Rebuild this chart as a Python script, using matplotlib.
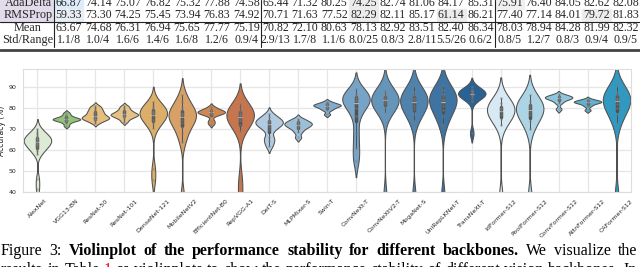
import matplotlib
matplotlib.use("Agg")
import matplotlib.pyplot as plt
import seaborn as sns
import pandas as pd

W, H = 640, 267

# ---- table rows (cut-off top of the page) ----
row_labels = ["AdaDelta", "RMSProp", "Mean", "Std/Range"]
adadelta = ["66.87", "74.14", "75.07", "76.82", "75.32", "77.88", "74.58",
            "65.44", "71.32", "80.25", "74.25", "82.74", "81.06", "84.17", "85.31",
            "75.91", "76.40", "84.05", "82.62", "82.08"]
rmsprop = ["59.33", "73.30", "74.25", "75.45", "73.94", "76.83", "74.92",
           "70.71", "71.63", "77.52", "82.29", "82.11", "85.17", "61.14", "86.21",
           "77.40", "77.14", "84.01", "79.72", "81.83"]
means = ["63.67", "74.68", "76.31", "76.94", "75.65", "77.77", "75.19",
         "70.82", "72.10", "80.63", "78.13", "82.92", "83.51", "82.40", "86.34",
         "78.03", "78.94", "84.28", "81.99", "82.32"]
stds = ["1.1/8", "1.0/4", "1.6/6", "1.4/6", "1.6/8", "1.2/6", "0.9/4",
        "2.9/13", "1.7/8", "1.1/6", "8.0/25", "0.8/3", "2.8/11", "5.5/26", "0.6/2",
        "0.8/5", "1.2/7", "0.8/3", "0.9/4", "0.9/5"]
group_sizes = [7, 8, 5]

# ---- violin data (accuracy per optimizer) ----
models = ["AlexNet", "VGG13-BN", "ResNet-50", "ResNet-101", "DenseNet-121",
          "MobileNetV2", "EfficientNet-B0", "RepVGG-A1", "DeiT-S", "MLPMixer-S",
          "Swin-T", "ConvNeXt-T", "ConvNeXtV2-T", "MogaNet-S", "UniRepLKNet-T",
          "TransNeXt-T", "IdFormer-S12", "PoolFormer-S12", "ConvFormer-S12",
          "AttnFormer-S12", "CAFormer-S12"]
acc = {
    "AlexNet": [41.5, 46.0, 58.0, 59.5, 60.5, 61.5, 62.2, 62.8, 63.4, 63.9, 64.3, 64.8, 65.2,
                65.7, 66.2, 66.8, 67.5, 68.5, 70.0],
    "VGG13-BN": [71.5, 72.8, 73.6, 74.0, 74.3, 74.5, 74.7, 74.9, 75.2, 75.5, 76.0, 76.8, 77.8],
    "ResNet-50": [73.0, 74.0, 74.6, 75.0, 75.3, 75.7, 76.2, 76.8, 77.5, 78.3, 79.0, 80.0, 81.0],
    "ResNet-101": [73.5, 74.8, 75.5, 76.0, 76.4, 76.8, 77.0, 77.3, 77.8, 78.4, 79.0, 80.0, 81.0],
    "DenseNet-121": [45.5, 51.0, 70.5, 72.5, 74.0, 75.0, 76.0, 76.6, 77.2, 77.7, 78.2, 78.8,
                     79.5, 80.3, 81.5, 83.0],
    "MobileNetV2": [37.5, 64.0, 68.0, 71.0, 73.0, 74.5, 75.5, 76.3, 77.0, 77.8, 79.0, 80.5, 83.0, 86.0],
    "EfficientNet-B0": [72.5, 74.0, 76.5, 77.2, 77.6, 77.9, 78.2, 78.5, 78.9, 79.5, 80.5],
    "RepVGG-A1": [37.5, 45.5, 69.0, 72.0, 74.0, 75.0, 75.8, 76.5, 77.2, 78.0, 79.0, 80.5, 82.0],
    "DeiT-S": [62.0, 64.5, 66.0, 69.5, 71.0, 72.0, 72.6, 73.2, 73.8, 74.5, 75.5, 77.0],
    "MLPMixer-S": [66.0, 68.5, 70.0, 70.8, 71.5, 72.0, 72.4, 72.9, 73.4, 74.0, 75.0],
    "Swin-T": [77.0, 79.0, 79.8, 80.5, 80.9, 81.2, 81.5, 81.8, 82.2, 83.0],
    "ConvNeXt-T": [55.0, 61.0, 68.0, 76.0, 80.0, 82.0, 83.2, 84.0, 84.8, 85.8, 87.0, 89.0],
    "ConvNeXtV2-T": [37.5, 78.0, 80.5, 82.0, 83.0, 83.6, 84.2, 84.8, 85.5, 86.5, 88.0],
    "MogaNet-S": [37.5, 74.0, 77.0, 79.5, 81.0, 82.5, 83.5, 84.3, 85.0, 86.0, 87.5, 90.5],
    "UniRepLKNet-T": [37.5, 72.0, 76.0, 79.0, 81.0, 82.5, 83.6, 84.5, 85.5, 86.8, 88.5, 91.0],
    "TransNeXt-T": [68.0, 83.5, 85.0, 85.8, 86.3, 86.7, 87.1, 87.5, 88.0, 88.8, 90.0],
    "IdFormer-S12": [37.5, 72.0, 75.0, 76.8, 78.0, 78.8, 79.5, 80.2, 81.2, 82.5, 85.0],
    "PoolFormer-S12": [37.5, 70.0, 74.0, 76.5, 78.0, 79.2, 80.0, 80.8, 82.0, 83.5, 86.0],
    "ConvFormer-S12": [79.5, 82.5, 83.8, 84.4, 84.8, 85.1, 85.4, 85.8, 86.5],
    "AttnFormer-S12": [79.0, 81.0, 82.0, 82.5, 82.8, 83.0, 83.3, 83.6, 84.2],
    "CAFormer-S12": [37.5, 73.0, 77.0, 80.0, 82.0, 83.3, 84.2, 85.0, 86.0, 87.5, 90.5],
}
colors = ["#dcefd2", "#8ccf6e", "#f5c26b", "#f5c575", "#eeb257", "#e9a053",
          "#e3873e", "#d9703a", "#a9cdea", "#92c0e2", "#74aed9", "#6aa5d3",
          "#5897c8", "#3f84bd", "#2e74b3", "#1763a6", "#d3ebf7", "#a3d8ee",
          "#80cbeb", "#4db8e2", "#1ba2d8"]

df = pd.DataFrame([(m, v) for m in models for v in acc[m]], columns=["model", "acc"])

sns.set_style("whitegrid")
fig = plt.figure(figsize=(W / 100, H / 100), dpi=100)

def fx(x):
    return x / W

def fy(y):
    return 1 - y / H

serif = "Liberation Serif"

# ---- table ----
fig.patches.append(plt.Rectangle((0, fy(21.5)), fx(54), 21.5 / H, transform=fig.transFigure,
                                 color="#e2dbec", zorder=0))
highlights = {(0, 0): "#dcecf8", (1, 0): "#e8eef5", (0, 10): "#ececec", (1, 10): "#ececec",
              (1, 13): "#ececec", (1, 18): "#ececec", (0, 15): "#f0f0f0"}
row_y = [3, 15, 28, 40]
bounds = [54, 261, 495, 640]
centers = []
for g, n in enumerate(group_sizes):
    w = (bounds[g + 1] - bounds[g]) / n
    centers += [bounds[g] + w * (i + 0.5) for i in range(n)]
for r, (lab, vals) in enumerate(zip(row_labels, [adadelta, rmsprop, means, stds])):
    fig.text(fx(28), fy(row_y[r]), lab, fontfamily=serif, fontsize=8.8, ha="center", va="center")
    for c, v in enumerate(vals):
        if (r, c) in highlights:
            fig.patches.append(plt.Rectangle((fx(centers[c] - 14.5), fy(row_y[r] + 6)), 29 / W, 12 / H,
                                             transform=fig.transFigure, color=highlights[(r, c)], zorder=0))
        fig.text(fx(centers[c]), fy(row_y[r]), v, fontfamily=serif, fontsize=8.6,
                 ha="center", va="center")
fig.add_artist(plt.Line2D([0, 1], [fy(21.5)] * 2, color="#222", lw=0.8))
fig.add_artist(plt.Line2D([0, 1], [fy(49.5)] * 2, color="#444", lw=2.0))
for b in bounds[:-1]:
    fig.add_artist(plt.Line2D([fx(b)] * 2, [fy(0), fy(47)], color="#222", lw=0.8))

# ---- violin plot ----
ax = fig.add_axes([fx(23), fy(192), fx(631) - fx(23), fy(69) - fy(192)])
sns.violinplot(data=df, x="model", y="acc", hue="model", palette=colors, legend=False,
               order=models, density_norm="width", cut=2, bw_adjust=0.6, width=0.95,
               inner="box", linewidth=0.75, linecolor="#505050",
               inner_kws=dict(box_width=2.5, whis_width=0.7, markersize=2.5), ax=ax)
sns.stripplot(data=df, x="model", y="acc", order=models, jitter=False, size=2,
              color="grey", alpha=0.5, ax=ax)
ax.set_ylim(40, 98.6)
ax.set_xlim(-0.5, len(models) - 0.5)
ax.set_yticks([40, 50, 60, 70, 80, 90])
ax.set_xlabel("")
ax.set_ylabel("Accuracy (%)", fontsize=5.5, labelpad=2)
ax.tick_params(axis="both", labelsize=4.5, pad=1)
plt.setp(ax.get_xticklabels(), rotation=45)
ax.grid(True, color="#e6e6e6", lw=0.9)
for s in ax.spines.values():
    s.set_color("#dddddd")

# ---- caption (justified lines) ----
renderer = fig.canvas.get_renderer()
lines = [
    (255, [("Figure", "normal", "k"), ("3:", "normal", "k"), ("Violinplot", "bold", "k"),
           ("of", "bold", "k"), ("the", "bold", "k"), ("performance", "bold", "k"),
           ("stability", "bold", "k"), ("for", "bold", "k"), ("different", "bold", "k"),
           ("backbones.", "bold", "k"), ("We", "normal", "k"), ("visualize", "normal", "k"),
           ("the", "normal", "k")]),
    (274, [("results", "normal", "k"), ("in", "normal", "k"), ("Table", "normal", "k"),
           ("1", "normal", "red"), ("as", "normal", "k"), ("violinplots", "normal", "k"),
           ("to", "normal", "k"), ("show", "normal", "k"), ("the", "normal", "k"),
           ("performance", "normal", "k"), ("stability", "normal", "k"), ("of", "normal", "k"),
           ("different", "normal", "k"), ("vision", "normal", "k"), ("backbones.", "normal", "k"),
           ("In", "normal", "k")]),
]
for base, words in lines:
    texts = [fig.text(0, fy(base), w, fontfamily=serif, fontsize=11.5, fontweight=wt,
                      color=col, va="baseline") for w, wt, col in words]
    widths = [t.get_window_extent(renderer).width for t in texts]
    gap = (637 - 1 - sum(widths)) / (len(texts) - 1)
    x = 1
    for t, w in zip(texts, widths):
        t.set_x(fx(x))
        x += w + gap

fig.savefig("out.png", dpi=100)
